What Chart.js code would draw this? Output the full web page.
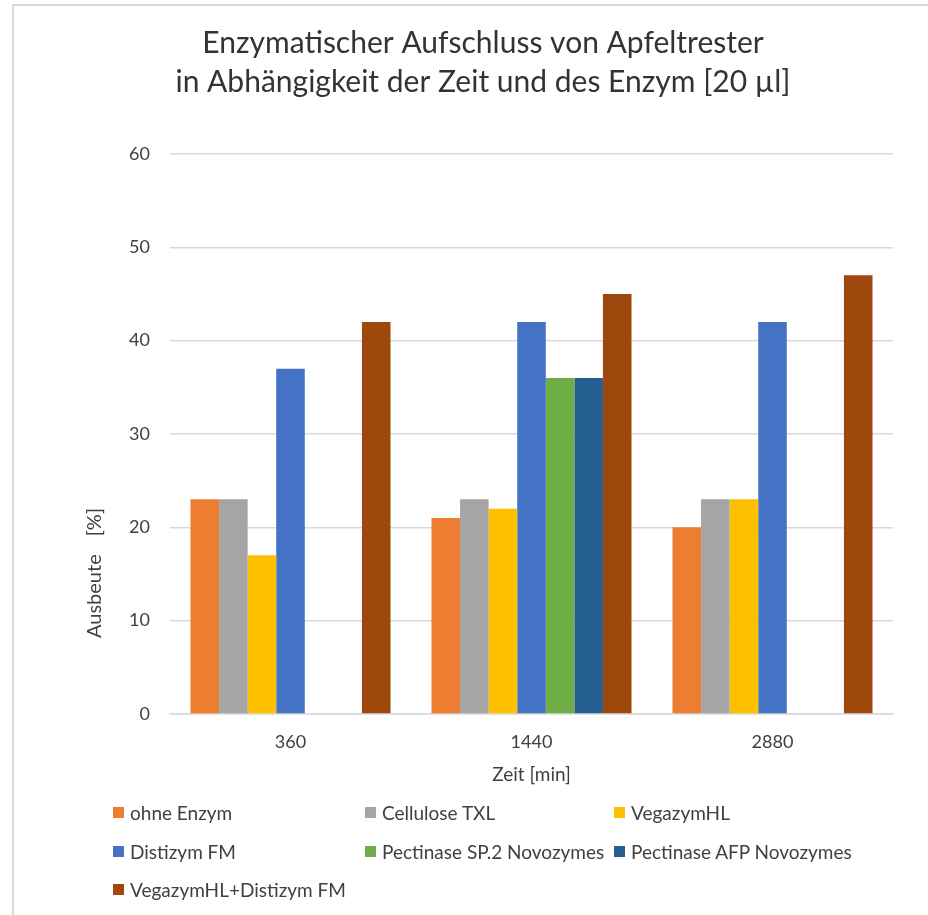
<!DOCTYPE html>
<html>
<head>
<meta charset="utf-8">
<script src="https://cdn.jsdelivr.net/npm/chart.js@4"></script>
<style>
  body { margin: 0; background: #fff; }
  #wrap { position: relative; width: 928px; height: 915px; overflow: hidden; }
  #frame { position: absolute; left: 12px; top: 4px; width: 940px; height: 940px;
           border-top: 2px solid #d9d9d9; border-left: 2px solid #d9d9d9; }
  canvas { position: absolute; left: 0; top: 0; }
  .leg { position: absolute; font: 19px Lato, sans-serif; color: #404040;
         display: flex; align-items: center; white-space: nowrap; height: 24px; }
  .leg i { display: inline-block; width: 11px; height: 11px; margin-right: 6px; }
</style>
</head>
<body>
<div id="wrap">
  <div id="frame"></div>
  <canvas id="c" width="928" height="915"></canvas>
  <div id="legend"></div>
</div>
<script>
// Zeitpunkte (x-Achse) und Ausbeute in % je Enzym
const zeiten = ["360", "1440", "2880"];
const ohneEnzym = [23, 21, 20];
const celluloseTXL = [23, 23, 23];
const vegazymHL = [17, 22, 23];
const distizymFM = [37, 42, 42];
const pectinaseSP2 = [null, 36, null];
const pectinaseAFP = [null, 36, null];
const vegazymDistizym = [42, 45, 47];

const serien = [
  { name: "ohne Enzym", data: ohneEnzym, color: "#ED7D31" },
  { name: "Cellulose TXL", data: celluloseTXL, color: "#A5A5A5" },
  { name: "VegazymHL", data: vegazymHL, color: "#FFC000" },
  { name: "Distizym FM", data: distizymFM, color: "#4472C4" },
  { name: "Pectinase SP.2 Novozymes", data: pectinaseSP2, color: "#70AD47" },
  { name: "Pectinase AFP Novozymes", data: pectinaseAFP, color: "#255E91" },
  { name: "VegazymHL+Distizym FM", data: vegazymDistizym, color: "#9E480E" },
];

const FONT = "Lato";
const TXT = "#404040";
const GRID = "#d9d9d9";

// y-Achsentitel sitzt im Original tiefer als die Mitte -> selbst zeichnen
const yTitlePlugin = {
  id: "yTitle",
  afterDraw(chart) {
    const ctx = chart.ctx;
    const area = chart.chartArea;
    ctx.save();
    ctx.translate(area.left - 75, area.bottom - 76);
    ctx.rotate(-Math.PI / 2);
    ctx.font = "20px " + FONT;
    ctx.fillStyle = TXT;
    ctx.textBaseline = "middle";
    ctx.textAlign = "left";
    ctx.fillText("Ausbeute", 0, 0);
    ctx.textAlign = "right";
    ctx.fillText("[%]", 130, 0);
    ctx.restore();
  },
};

new Chart(document.getElementById("c"), {
  type: "bar",
  data: {
    labels: zeiten,
    datasets: serien.map((s) => ({
      label: s.name,
      data: s.data,
      backgroundColor: s.color,
      borderWidth: 0,
      barPercentage: 1,
      categoryPercentage: 0.83,
    })),
  },
  options: {
    responsive: false,
    animation: false,
    layout: { padding: { left: 73, right: 35, top: 0, bottom: 129 } },
    plugins: {
      legend: { display: false },
      tooltip: { enabled: false },
      title: {
        display: true,
        text: [
          "Enzymatischer Aufschluss von Apfeltrester",
          "in Abhängigkeit der Zeit und des Enzym [20 µl]",
        ],
        color: "#333",
        font: { family: FONT, size: 30, weight: "normal", lineHeight: 1.3 },
        padding: { top: 24, bottom: 52 },
      },
    },
    scales: {
      x: {
        grid: { display: false, drawTicks: false },
        border: { display: true, color: GRID, width: 1.5 },
        ticks: { color: TXT, font: { family: FONT, size: 18 }, padding: 17 },
        title: {
          display: true,
          text: "Zeit [min]",
          color: TXT,
          font: { family: FONT, size: 19 },
          padding: { top: 7, bottom: 0 },
        },
        afterFit: (s) => { s.height = 72; },
      },
      y: {
        min: 0,
        max: 60,
        ticks: { stepSize: 10, color: TXT, font: { family: FONT, size: 18 }, padding: 20 },
        grid: { color: GRID, lineWidth: 1.5, drawTicks: false },
        border: { display: false },
        afterFit: (s) => { s.width = 97; },
      },
    },
  },
  plugins: [yTitlePlugin],
});

// Legende in drei Spalten wie im Original
const legende = document.getElementById("legend");
const spalten = [113, 365, 614];
const zeilen = [812, 851, 889];
serien.forEach((s, i) => {
  const d = document.createElement("div");
  d.className = "leg";
  d.style.left = spalten[i % 3] + "px";
  d.style.top = zeilen[Math.floor(i / 3)] - 12 + "px";
  d.innerHTML = '<i style="background:' + s.color + '"></i>' + s.name;
  legende.appendChild(d);
});
</script>
</body>
</html>
